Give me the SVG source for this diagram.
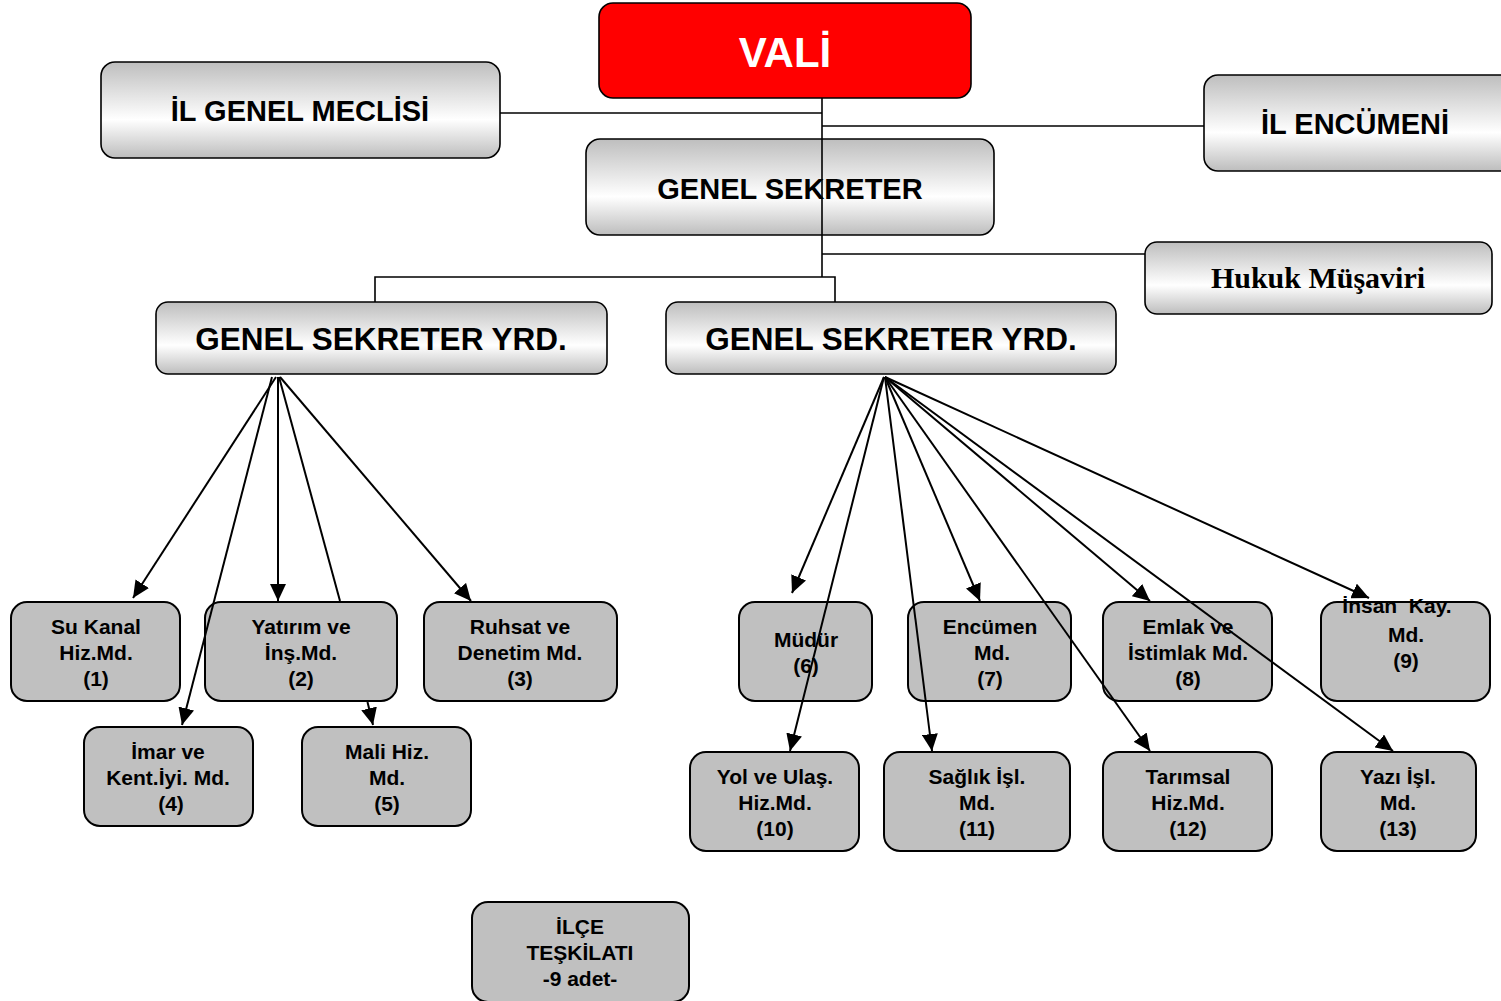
<svg xmlns="http://www.w3.org/2000/svg" width="1501" height="1001" viewBox="0 0 1501 1001">
<defs>
<linearGradient id="g" x1="0" y1="0" x2="0" y2="1">
<stop offset="0" stop-color="#bebebe"/>
<stop offset="0.6" stop-color="#ffffff"/>
<stop offset="1" stop-color="#bdbdbd"/>
</linearGradient>
<marker id="ah" markerUnits="userSpaceOnUse" markerWidth="18" markerHeight="16" refX="17" refY="8" orient="auto">
<path d="M0,0 L17,8 L0,16 z" fill="#000"/>
</marker>
<style>
.top{fill:url(#g);stroke:#000;stroke-width:1.6}
.box{fill:#c0c0c0;stroke:#000;stroke-width:2}
.t{font-family:"Liberation Sans",Arial,sans-serif;font-weight:bold;text-anchor:middle;fill:#000}
.s{font-size:21px}
.c{stroke:#000;stroke-width:1.6;fill:none}
.a{stroke:#000;stroke-width:2;fill:none}
.ar{stroke:#000;stroke-width:2;fill:none;marker-end:url(#ah)}
</style>
</defs>
<rect width="1501" height="1001" fill="#fff"/>

<g id="vali"><rect x="599" y="3" width="372" height="95" rx="14" fill="#ff0000" stroke="#000" stroke-width="1.6"/><text class="t" x="785" y="67" font-size="42" style="fill:#fff">VALİ</text></g>
<g id="il-genel-meclisi"><rect class="top" x="101" y="62" width="399" height="96" rx="14"/><text class="t" x="300" y="121" font-size="29">İL GENEL MECLİSİ</text></g>
<g id="il-encumeni"><rect class="top" x="1204" y="75" width="310" height="96" rx="14"/><text class="t" x="1355" y="134" font-size="29">İL ENCÜMENİ</text></g>
<g id="genel-sekreter"><rect class="top" x="586" y="139" width="408" height="96" rx="14"/><text class="t" x="790" y="199" font-size="29">GENEL SEKRETER</text></g>
<g id="hukuk"><rect class="top" x="1145" y="242" width="347" height="72" rx="12"/><text x="1318" y="288" font-size="30" font-weight="bold" text-anchor="middle" font-family="'Liberation Serif','Times New Roman',serif">Hukuk Müşaviri</text></g>
<g id="gsy-left"><rect class="top" x="156" y="302" width="451" height="72" rx="12"/><text class="t" x="381" y="350" font-size="31.5">GENEL SEKRETER YRD.</text></g>
<g id="gsy-right"><rect class="top" x="666" y="302" width="450" height="72" rx="12"/><text class="t" x="891" y="350" font-size="31.5">GENEL SEKRETER YRD.</text></g>

<g id="n1"><rect class="box" x="11" y="602" width="169" height="99" rx="16"/><text class="t s" x="96" y="634">Su Kanal</text><text class="t s" x="96" y="660">Hiz.Md.</text><text class="t s" x="96" y="686">(1)</text></g>
<g id="n2"><rect class="box" x="205" y="602" width="192" height="99" rx="16"/><text class="t s" x="301" y="634">Yatırım ve</text><text class="t s" x="301" y="660">İnş.Md.</text><text class="t s" x="301" y="686">(2)</text></g>
<g id="n3"><rect class="box" x="424" y="602" width="193" height="99" rx="16"/><text class="t s" x="520" y="634">Ruhsat ve</text><text class="t s" x="520" y="660">Denetim Md.</text><text class="t s" x="520" y="686">(3)</text></g>
<g id="n4"><rect class="box" x="84" y="727" width="169" height="99" rx="16"/><text class="t s" x="168" y="759">İmar ve</text><text class="t s" x="168" y="785">Kent.İyi. Md.</text><text class="t s" x="171" y="811">(4)</text></g>
<g id="n5"><rect class="box" x="302" y="727" width="169" height="99" rx="16"/><text class="t s" x="387" y="759">Mali Hiz.</text><text class="t s" x="387" y="785">Md.</text><text class="t s" x="387" y="811">(5)</text></g>

<g id="n6"><rect class="box" x="739" y="602" width="133" height="99" rx="16"/><text class="t s" x="806" y="647">Müdür</text><text class="t s" x="806" y="673">(6)</text></g>
<g id="n7"><rect class="box" x="908" y="602" width="163" height="99" rx="16"/><text class="t s" x="990" y="634">Encümen</text><text class="t s" x="992" y="660">Md.</text><text class="t s" x="990" y="686">(7)</text></g>
<g id="n8"><rect class="box" x="1103" y="602" width="169" height="99" rx="16"/><text class="t s" x="1188" y="634">Emlak ve</text><text class="t s" x="1188" y="660">İstimlak Md.</text><text class="t s" x="1188" y="686">(8)</text></g>
<g id="n9"><rect class="box" x="1321" y="602" width="169" height="99" rx="16"/><text class="t s" x="1397" y="613" xml:space="preserve">İnsan  Kay.</text><text class="t s" x="1406" y="642">Md.</text><text class="t s" x="1406" y="668">(9)</text></g>
<g id="n10"><rect class="box" x="690" y="752" width="169" height="99" rx="16"/><text class="t s" x="775" y="784">Yol ve Ulaş.</text><text class="t s" x="775" y="810">Hiz.Md.</text><text class="t s" x="775" y="836">(10)</text></g>
<g id="n11"><rect class="box" x="884" y="752" width="186" height="99" rx="16"/><text class="t s" x="977" y="784">Sağlık İşl.</text><text class="t s" x="977" y="810">Md.</text><text class="t s" x="977" y="836">(11)</text></g>
<g id="n12"><rect class="box" x="1103" y="752" width="169" height="99" rx="16"/><text class="t s" x="1188" y="784">Tarımsal</text><text class="t s" x="1188" y="810">Hiz.Md.</text><text class="t s" x="1188" y="836">(12)</text></g>
<g id="n13"><rect class="box" x="1321" y="752" width="155" height="99" rx="16"/><text class="t s" x="1398" y="784">Yazı İşl.</text><text class="t s" x="1398" y="810">Md.</text><text class="t s" x="1398" y="836">(13)</text></g>
<g id="ilce"><rect class="box" x="472" y="902" width="217" height="100" rx="16"/><text class="t s" x="580" y="934">İLÇE</text><text class="t s" x="580" y="960">TEŞKİLATI</text><text class="t s" x="580" y="986">-9 adet-</text></g>

<g id="connectors">
<path class="c" d="M822,98 V277"/>
<path class="c" d="M500,113 H822"/>
<path class="c" d="M822,126 H1204"/>
<path class="c" d="M822,254 H1145"/>
<path class="c" d="M375,302 V277 H835 V302"/>

<line class="ar" x1="276" y1="377" x2="133" y2="598"/>
<line class="ar" x1="272" y1="377" x2="182" y2="725"/>
<line class="ar" x1="278" y1="377" x2="278" y2="601"/>
<line class="a" x1="279" y1="377" x2="340" y2="601"/>
<line class="ar" x1="367.5" y1="702" x2="373" y2="725"/>
<line class="ar" x1="280" y1="377" x2="471" y2="601"/>

<line class="ar" x1="884" y1="377" x2="792" y2="593"/>
<line class="ar" x1="884" y1="377" x2="790" y2="751"/>
<line class="ar" x1="885" y1="377" x2="932" y2="751"/>
<line class="ar" x1="885" y1="377" x2="980" y2="601"/>
<line class="ar" x1="885" y1="377" x2="1150" y2="751"/>
<line class="ar" x1="885" y1="377" x2="1150" y2="601"/>
<line class="ar" x1="885" y1="377" x2="1393" y2="751"/>
<line class="ar" x1="885" y1="377" x2="1369" y2="598"/>
</g>
</svg>
